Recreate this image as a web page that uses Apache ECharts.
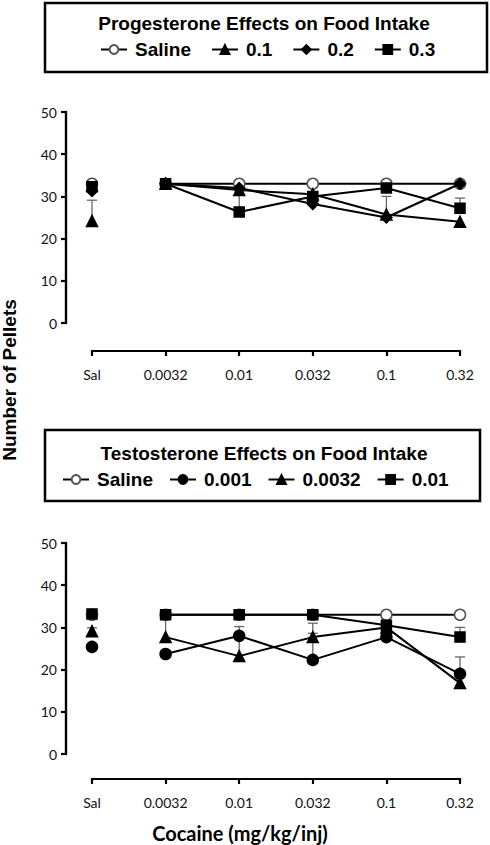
<!DOCTYPE html>
<html><head><meta charset="utf-8">
<script src="https://cdn.jsdelivr.net/npm/echarts@6/dist/echarts.min.js"></script>
<style>html,body{margin:0;padding:0;background:#fff}#c{width:490px;height:845px}</style>
</head><body><div id="c"></div>
<script>
// ---- data ----
const categories = ['Sal', '0.0032', '0.01', '0.032', '0.1', '0.32'];
const yMin = 0, yMax = 50, yStep = 10;

// Progesterone (top panel)
const progNames = ['Saline', '0.1', '0.2', '0.3'];
const progSaline = [33, 33, 33, 33, 33, 33];
const prog01 = [24.2, 33, 31.5, 30.5, 25.7, 24];
const prog02 = [31.3, 33, 32, 28.2, 25, 33];
const prog03 = [32.3, 33, 26.3, 30, 32, 27.2];
const progSalineErr = [0, 0, 0, 0, 0, 0];
const prog01Err = [4.9, 0, 0, 0, 4.3, 0];
const prog02Err = [0, 0, 0, 2.8, 0, 0];
const prog03Err = [0, 0, 5, 0, 0, 2.4];

// Testosterone (bottom panel)
const testNames = ['Saline', '0.001', '0.0032', '0.01'];
const testSaline = [33, 33, 33, 33, 33, 33];
const test0001 = [25.4, 23.7, 28, 22.3, 27.7, 19];
const test00032 = [29.1, 27.7, 23.2, 27.7, 30, 16.8];
const test001 = [33.2, 33, 33, 33, 30.5, 27.7];
const testSalineErr = [0, 0, 0, 0, 0, 0];
const test0001Err = [0, 0, 0, 6.3, 0, 4];
const test00032Err = [0.8, 5.3, 7, 3.3, 0, 0];
const test001Err = [0, 0, 0, 0, 1.7, 2.3];

// ---- styles ----
const BLACK = '#000';
const markerDefs = {
  circleOpen: { symbol: 'circle', size: 11, color: '#fff', border: '#555' },
  circle: { symbol: 'circle', size: 11, color: BLACK, border: BLACK },
  triangle: { symbol: 'triangle', size: 11, color: BLACK, border: BLACK },
  diamond: { symbol: 'diamond', size: 11, color: BLACK, border: BLACK },
  square: { symbol: 'rect', size: 10, color: BLACK, border: BLACK }
};

function seriesFor(name, values, errs, mk, gi, z) {
  const m = markerDefs[mk];
  const itemStyle = { color: m.color, borderColor: m.border, borderWidth: 1.5, opacity: 1 };
  const out = [];
  out.push({
    type: 'line', name: name, xAxisIndex: gi, yAxisIndex: gi,
    data: values.map((v, i) => i === 0 ? '-' : v),
    symbol: m.symbol, symbolSize: m.size,
    lineStyle: { color: BLACK, width: 2 }, itemStyle: itemStyle,
    z: z, silent: true
  });
  out.push({
    type: 'scatter', name: name, xAxisIndex: gi, yAxisIndex: gi,
    data: [[0, values[0]]], symbol: m.symbol, symbolSize: m.size,
    itemStyle: itemStyle, z: z, silent: true
  });
  const eb = [];
  values.forEach((v, i) => { if (errs[i] > 0) eb.push([i, v, v + errs[i]]); });
  if (eb.length) {
    out.push({
      type: 'custom', xAxisIndex: gi, yAxisIndex: gi, data: eb, z: 1, silent: true,
      encode: { x: 0, y: [1, 2] },
      renderItem: function (params, api) {
        const p0 = api.coord([api.value(0), api.value(1)]);
        const p1 = api.coord([api.value(0), api.value(2)]);
        const st = { stroke: '#666', lineWidth: 1.3 };
        return { type: 'group', children: [
          { type: 'line', shape: { x1: p0[0], y1: p0[1], x2: p1[0], y2: p1[1] }, style: st },
          { type: 'line', shape: { x1: p1[0] - 5, y1: p1[1], x2: p1[0] + 5, y2: p1[1] }, style: st }
        ]};
      }
    });
  }
  return out;
}

const grids = [
  { left: 92, right: 30, top: 112, height: 211 },
  { left: 92, right: 30, top: 543, height: 211 }
];
const xOffsets = [28, 25];
const yOffset = 26;
const AXW = 2.2;

const axisFont = { fontFamily: 'Lato', fontSize: 14, color: '#111' };
const xAxes = grids.map((g, i) => ({
  type: 'category', gridIndex: i, data: categories, boundaryGap: false, offset: xOffsets[i],
  axisLine: { show: true, onZero: false, lineStyle: { color: BLACK, width: AXW, cap: 'butt' } },
  axisTick: { show: true, length: 5, lineStyle: { color: BLACK, width: AXW } },
  axisLabel: Object.assign({ margin: 16, interval: 0 }, axisFont),
  splitLine: { show: false }
}));
const yAxes = grids.map((g, i) => ({
  type: 'value', gridIndex: i, min: yMin, max: yMax, interval: yStep, offset: yOffset,
  axisLine: { show: true, onZero: false, lineStyle: { color: BLACK, width: AXW, cap: 'butt' } },
  axisTick: { show: true, length: 5, lineStyle: { color: BLACK, width: AXW } },
  axisLabel: Object.assign({ margin: 9 }, axisFont),
  splitLine: { show: false }
}));

const series = [].concat(
  seriesFor(progNames[0], progSaline, progSalineErr, 'circleOpen', 0, 3),
  seriesFor(progNames[1], prog01, prog01Err, 'triangle', 0, 4),
  seriesFor(progNames[2], prog02, prog02Err, 'diamond', 0, 5),
  seriesFor(progNames[3], prog03, prog03Err, 'square', 0, 6),
  seriesFor(testNames[0], testSaline, testSalineErr, 'circleOpen', 1, 3),
  seriesFor(testNames[1], test0001, test0001Err, 'circle', 1, 4),
  seriesFor(testNames[2], test00032, test00032Err, 'triangle', 1, 5),
  seriesFor(testNames[3], test001, test001Err, 'square', 1, 6)
);

const legendText = { fontFamily: 'Liberation Sans', fontWeight: 'bold', fontSize: 19, color: BLACK, padding: [0, 0, 0, 3] };
const legends = [
  { data: progNames, left: 100, top: 40, itemWidth: 26, itemHeight: 11, itemGap: 20, padding: 0, textStyle: legendText, selectedMode: false },
  { data: testNames, left: 62, top: 470, itemWidth: 26, itemHeight: 11, itemGap: 16, padding: 0, textStyle: legendText, selectedMode: false }
];

const titleFont = { fontFamily: 'Liberation Sans', fontWeight: 'bold', fontSize: 19, fill: BLACK };
const graphic = [
  { type: 'rect', shape: { x: 45, y: 3, width: 442, height: 69 }, style: { fill: 'none', stroke: BLACK, lineWidth: 2.5 }, silent: true },
  { type: 'rect', shape: { x: 45, y: 430, width: 435, height: 71 }, style: { fill: 'none', stroke: BLACK, lineWidth: 2.5 }, silent: true },
  { type: 'text', x: 264, y: 23, style: Object.assign({ text: 'Progesterone Effects on Food Intake', align: 'center', verticalAlign: 'middle' }, titleFont), silent: true },
  { type: 'text', x: 264, y: 453, style: Object.assign({ text: 'Testosterone Effects on Food Intake', align: 'center', verticalAlign: 'middle' }, titleFont), silent: true },
  { type: 'text', x: 9, y: 380, rotation: Math.PI / 2, style: { text: 'Number of Pellets', align: 'center', verticalAlign: 'middle', fontFamily: 'Liberation Sans', fontWeight: 'bold', fontSize: 19, fill: BLACK }, silent: true },
  { type: 'text', x: 240, y: 833, style: { text: 'Cocaine (mg/kg/inj)', align: 'center', verticalAlign: 'middle', fontFamily: 'Lato', fontWeight: 'bold', fontSize: 20, fill: BLACK }, silent: true }
];

const chart = echarts.init(document.getElementById('c'), null, { renderer: 'svg' });
chart.setOption({
  backgroundColor: '#fff',
  animation: false,
  grid: grids,
  xAxis: xAxes,
  yAxis: yAxes,
  legend: legends,
  series: series,
  graphic: graphic
});

// reinforce the detached axis lines as thin filled bars, placed from the library's own scales
function toNum(v) { return Array.isArray(v) ? v[0] : v; }
const axisBars = [];
grids.forEach((g, i) => {
  let y0 = toNum(chart.convertToPixel({ yAxisIndex: i }, yMin));
  let y1 = toNum(chart.convertToPixel({ yAxisIndex: i }, yMax));
  let xa = toNum(chart.convertToPixel({ xAxisIndex: i }, categories[0]));
  let xb = toNum(chart.convertToPixel({ xAxisIndex: i }, categories[categories.length - 1]));
  if (![y0, y1, xa, xb].every(v => typeof v === 'number' && isFinite(v))) {
    // fall back to the grid box the axes were laid out in
    y0 = g.top + g.height; y1 = g.top; xa = g.left; xb = 490 - g.right;
  }
  const xAxisY = y0 + xOffsets[i];
  const yAxisX = xa - yOffset;
  axisBars.push({ type: 'rect', z: 100, silent: true,
    shape: { x: yAxisX - AXW / 2, y: y1 - AXW / 2, width: AXW, height: (y0 - y1) + AXW },
    style: { fill: BLACK } });
  axisBars.push({ type: 'rect', z: 100, silent: true,
    shape: { x: xa - AXW / 2, y: xAxisY - AXW / 2, width: (xb - xa) + AXW, height: AXW },
    style: { fill: BLACK } });
});
chart.setOption({ graphic: graphic.concat(axisBars) });
</script>
</body></html>
